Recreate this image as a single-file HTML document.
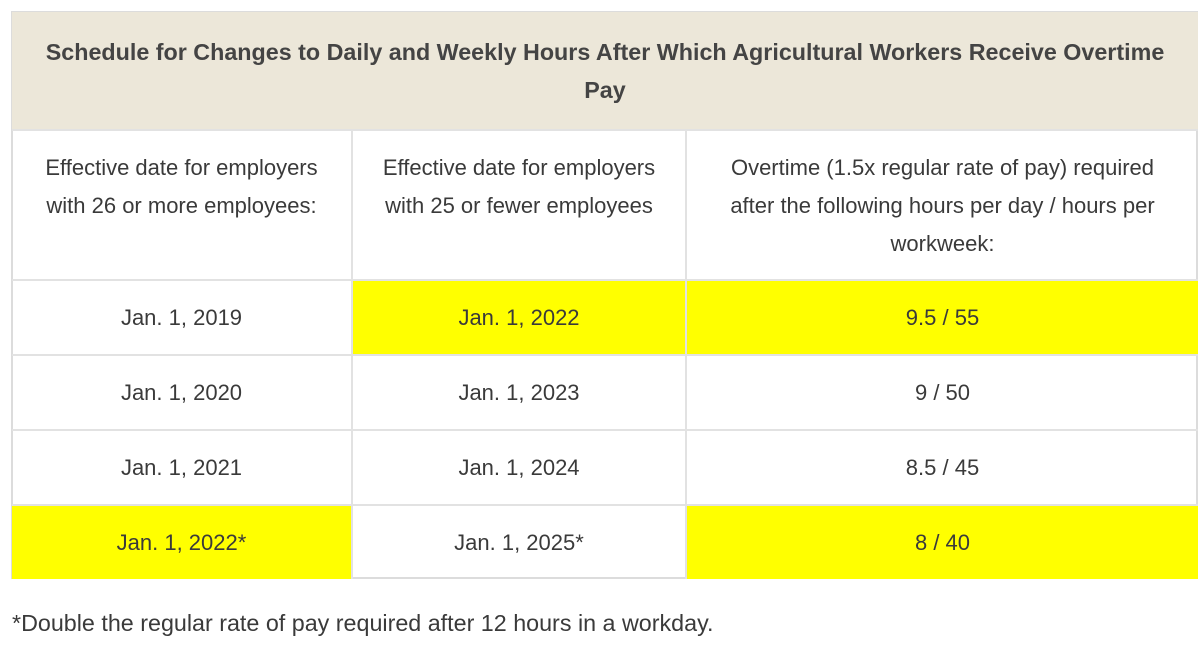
<!DOCTYPE html>
<html><head><style>
body{margin:0;width:1200px;height:646px;background:#fff;font-family:"Liberation Sans",sans-serif;color:#3a3a3a;position:relative;overflow:hidden}
.c{position:absolute;display:flex;align-items:center;justify-content:center;text-align:center;box-sizing:border-box;font-size:22px;line-height:38px;border-right:2px solid #e2e2e2;border-bottom:2px solid #e2e2e2;white-space:nowrap}
.y{background:#ffff00}
</style></head><body>
<div style="position:absolute;left:11px;top:11px;width:1187px;height:568px;border:2px solid #dcdcdc;box-sizing:border-box"></div>
<div class="c" style="left:12px;top:12px;width:1186px;height:119px;background:#ece7d9;font-weight:bold;font-size:23.3px;color:#444;border-right:none">Schedule for Changes to Daily and Weekly Hours After Which Agricultural Workers Receive Overtime<br>Pay</div>

<div class="c" style="left:12px;top:131px;width:341px;height:150px;align-items:flex-start;padding-top:18px">Effective date for employers<br>with 26 or more employees:</div>
<div class="c" style="left:353px;top:131px;width:334px;height:150px;align-items:flex-start;padding-top:18px">Effective date for employers<br>with 25 or fewer employees</div>
<div class="c" style="left:687px;top:131px;width:511px;height:150px;align-items:flex-start;padding-top:18px;border-right:none">Overtime (1.5x regular rate of pay) required<br>after the following hours per day / hours per<br>workweek:</div>

<div class="c" style="left:12px;top:281px;width:341px;height:75px">Jan. 1, 2019</div>
<div class="c y" style="left:353px;top:281px;width:334px;height:75px">Jan. 1, 2022</div>
<div class="c y" style="left:687px;top:281px;width:511px;height:75px;border-right:none">9.5 / 55</div>

<div class="c" style="left:12px;top:356px;width:341px;height:75px">Jan. 1, 2020</div>
<div class="c" style="left:353px;top:356px;width:334px;height:75px">Jan. 1, 2023</div>
<div class="c" style="left:687px;top:356px;width:511px;height:75px;border-right:none">9 / 50</div>

<div class="c" style="left:12px;top:431px;width:341px;height:75px">Jan. 1, 2021</div>
<div class="c" style="left:353px;top:431px;width:334px;height:75px">Jan. 1, 2024</div>
<div class="c" style="left:687px;top:431px;width:511px;height:75px;border-right:none">8.5 / 45</div>

<div class="c y" style="left:12px;top:506px;width:341px;height:73px;border-bottom:none">Jan. 1, 2022*</div>
<div class="c" style="left:353px;top:506px;width:334px;height:73px;border-bottom:none">Jan. 1, 2025*</div>
<div class="c y" style="left:687px;top:506px;width:511px;height:73px;border-right:none;border-bottom:none">8 / 40</div>

<div style="position:absolute;left:12px;top:607px;font-size:23.3px;line-height:32px;white-space:nowrap">*Double the regular rate of pay required after 12 hours in a workday.</div>
</body></html>
